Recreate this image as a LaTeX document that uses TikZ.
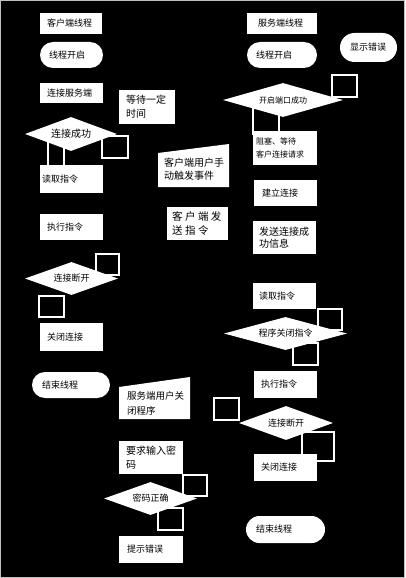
\documentclass[tikz,border=0pt]{standalone}
\usepackage{fontspec}
\setmainfont{Noto Sans CJK SC}
\usetikzlibrary{shapes.geometric}

\begin{document}
\begin{tikzpicture}[x=1pt, y=-1pt,
    box/.style={fill=white, inner xsep=7pt, inner ysep=0pt, align=left,
      font=\fontsize{9}{13}\selectfont},
    twoline/.style={box, font=\fontsize{10}{14}\selectfont},
    term/.style={box, rounded corners=13pt, inner xsep=9pt, minimum height=26pt},
    decide/.style={diamond, aspect=3, fill=white, inner sep=0pt,
      font=\fontsize{9}{11}\selectfont},
    tag/.style={draw=white, line width=1.8pt, inner sep=0pt}]

    % 背景与边框
    \fill[black] (0,0) rectangle (405,578);
    \useasboundingbox (0,0) rectangle (405,578);
    \draw[white!75!black, line width=0.8pt] (0.4,0.4) rectangle (404.6,577.6);

    % 判断框旁的空白标签
    \node[tag, minimum width=16pt, minimum height=28pt] (t1) at (56,154) {};
    \node[tag, minimum width=26pt, minimum height=22pt] (t2) at (115,147) {};
    \node[tag, minimum width=23pt, minimum height=21pt] (t3) at (107.5,264.5) {};
    \node[tag, minimum width=25pt, minimum height=21pt] (t4) at (51.5,306.5) {};
    \node[tag, minimum width=25pt, minimum height=22pt] (t5) at (344.5,86) {};
    \node[tag, minimum width=26pt, minimum height=26pt] (t6) at (266,121) {};
    \node[tag, minimum width=24pt, minimum height=21pt] (t7) at (330,319.5) {};
    \node[tag, minimum width=25pt, minimum height=22pt] (t8) at (305.5,354) {};
    \node[tag, minimum width=25pt, minimum height=22pt] (t9) at (226.5,409) {};
    \node[tag, minimum width=32pt, minimum height=29pt] (t10) at (318,446.5) {};
    \node[tag, minimum width=24pt, minimum height=21pt] (t11) at (195,485.5) {};
    \node[tag, minimum width=25pt, minimum height=22pt] (t12) at (170.5,519) {};

    % 客户端
    \node[box, text width=48pt, minimum height=21pt] (cT) at (71,23.5) {客户端线程};
    \node[term, text width=45pt] (cStart) at (71.5,55) {线程开启};
    \node[box, text width=49pt, minimum height=20pt] (cConn) at (71.5,93) {连接服务端};
    \node[twoline, text width=42pt, minimum height=34pt] (cWait) at (147,107) {等待一定\\时间};
    \node[decide, minimum width=92pt, minimum height=34pt, font=\fontsize{10}{12}\selectfont] (cOk) at (71,134) {连接成功};
    \node[box, inner xsep=2pt, text width=59pt, minimum height=28pt] (cRead) at (71.5,179) {读取指令};
    \fill[white] (158,153) -- (229,144) -- (229,187) -- (158,187) -- cycle;
    \node[align=left, inner sep=0pt, text width=62pt, font=\fontsize{10}{13.5}\selectfont] (cEvent) at (195,169) {客户端用户手\\动触发事件};
    \node[box, text width=49pt, minimum height=26pt] (cExec) at (71.5,227) {执行指令};
    \node[twoline, inner xsep=5pt, text width=51pt, minimum height=33pt, font=\fontsize{10.5}{14}\selectfont] (cSend) at (197.5,223.5)
      {客\hspace{2.5pt}户\hspace{2.5pt}端\hspace{2.5pt}发\\送\hspace{2.5pt}指\hspace{2.5pt}令};
    \node[decide, minimum width=93pt, minimum height=33pt] (cBreak) at (71.5,278.5) {连接断开};
    \node[box, text width=49pt, minimum height=28pt] (cClose) at (71.5,337) {关闭连接};
    \node[term, inner xsep=10pt, text width=58pt] (cEnd) at (71,385) {结束线程};
    \fill[white] (119,387) -- (190,377) -- (190,419) -- (119,419) -- cycle;
    \node[align=left, inner sep=0pt, text width=62pt, font=\fontsize{9.5}{15}\selectfont] (sQuit) at (158,403) {服务端用户关\\闭程序};
    \node[twoline, text width=50pt, minimum height=33pt] (pwd) at (151,457.5) {要求输入密\\码};
    \node[decide, minimum width=93pt, minimum height=33pt] (pwdOk) at (150.5,498.5) {密码正确};
    \node[box, inner xsep=8pt, text width=48pt, minimum height=27pt] (err) at (151,549.5) {提示错误};

    % 服务端
    \node[box, inner xsep=11pt, text width=48pt, minimum height=21pt] (sT) at (282,23.5) {服务端线程};
    \node[term, text width=52pt] (sStart) at (282,55) {线程开启};
    \node[term, inner xsep=10pt, text width=37pt, minimum height=29pt, rounded corners=14.5pt] (sErr) at (368.5,47.5) {显示错误};
    \node[decide, minimum width=120pt, minimum height=34pt, font=\fontsize{8}{10}\selectfont] (sPort) at (283,100) {开启端口成功};
    \node[box, inner xsep=3pt, text width=58pt, minimum height=34pt, font=\fontsize{8}{13}\selectfont] (sBlock) at (285,148) {阻塞、等待\\客户连接请求};
    \node[box, inner xsep=8pt, text width=47pt, minimum height=26pt] (sBuild) at (285.5,193) {建立连接};
    \node[twoline, inner xsep=6pt, text width=51pt, minimum height=33pt, font=\fontsize{10}{12.5}\selectfont] (sSend) at (284.5,237.5) {发送连接成\\功信息};
    \node[box, inner xsep=6pt, text width=51pt, minimum height=26pt] (sRead) at (284.5,296) {读取指令};
    \node[decide, minimum width=123pt, minimum height=33pt] (sCmd) at (285.5,333.5) {程序关闭指令};
    \node[box, text width=49pt, minimum height=27pt] (sExec) at (285.5,384.5) {执行指令};
    \node[decide, minimum width=94pt, minimum height=34pt] (sBreak) at (286,423) {连接断开};
    \node[box, text width=49pt, minimum height=27pt] (sClose) at (285.5,467.5) {关闭连接};
    \node[term, inner xsep=10pt, text width=59pt, minimum height=27pt, rounded corners=13.5pt] (sEnd) at (285.5,529.5) {结束线程};
\end{tikzpicture}
\end{document}
